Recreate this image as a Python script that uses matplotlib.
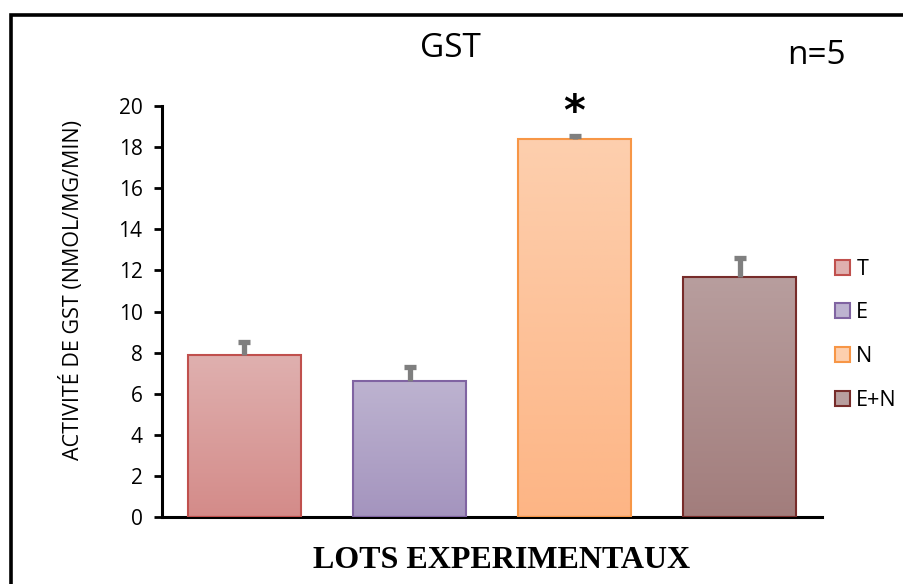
import matplotlib.pyplot as plt
import numpy as np
from matplotlib.colors import LinearSegmentedColormap
from matplotlib.patches import Patch, Rectangle

plt.rcParams['font.family'] = ['Open Sans', 'DejaVu Sans']

groups = ['T', 'E', 'N', 'E+N']
activite = [7.88, 6.6, 18.4, 11.68]
erreur = [0.62, 0.7, 0.12, 0.9]

# couleurs : haut du degrade, bas du degrade, contour
couleurs_haut = ['#dfb0af', '#bdb3d0', '#fdcfae', '#b89e9e']
couleurs_bas = ['#d48b89', '#a494be', '#fdb585', '#a27d7c']
contours = ['#c0504d', '#8064a2', '#f79646', '#772c2a']

fig = plt.figure(figsize=(9.04, 5.84), dpi=100)
ax = fig.add_axes([0.1792, 0.1147, 0.7301, 0.7038])

x = np.arange(len(groups))
largeur = 0.685
bars = ax.bar(x, activite, width=largeur, color='none', edgecolor=contours,
              linewidth=1.5, zorder=3)

# remplissage en degrade vertical
grad = np.linspace(1, 0, 256).reshape(-1, 1)
for b, haut, bas in zip(bars, couleurs_haut, couleurs_bas):
    cmap = LinearSegmentedColormap.from_list('g', [bas, haut])
    x0, y0 = b.get_x(), b.get_y()
    im = ax.imshow(grad, cmap=cmap, aspect='auto', zorder=2,
                   extent=[x0, x0 + b.get_width(), y0, y0 + b.get_height()])
    im.set_clip_path(b)

eb = ax.errorbar(x, activite, yerr=[np.zeros(len(erreur)), erreur], fmt='none',
                 ecolor='#7f7f7f', elinewidth=3.8, capsize=4.5, capthick=3.8,
                 zorder=4)
eb[1][0].set_visible(False)  # pas de trait en bas

ax.text(x[2], 19.65, '*', ha='center', va='center', fontsize=30,
        fontweight='bold', fontfamily='DejaVu Sans')

ax.set_xlim(-0.5, 3.5)
ax.set_ylim(0, 20)
ax.set_yticks(np.arange(0, 21, 2))
ax.set_xticks([])
ax.tick_params(axis='y', labelsize=15, width=2, length=6, direction='out', pad=8)
for s in ['top', 'right']:
    ax.spines[s].set_visible(False)
for s in ['left', 'bottom']:
    ax.spines[s].set_linewidth(2.2)
ax.set_ylabel('ACTIVITÉ DE GST (NMOL/MG/MIN)', fontsize=15.5)
ax.yaxis.set_label_coords(-0.118, 0.552)

fig.text(0.498, 0.917, 'GST', ha='center', va='center', fontsize=24)
fig.text(0.903, 0.905, 'n=5', ha='center', va='center', fontsize=24)
fig.text(0.555, 0.04, 'LOTS EXPERIMENTAUX', ha='center', va='center',
         fontsize=23, fontweight='bold', fontfamily='Liberation Serif')

handles = [Patch(facecolor=h, edgecolor=c, linewidth=1.5)
           for h, c in zip(couleurs_haut, contours)]
fig.legend(handles, groups, loc='upper left', bbox_to_anchor=(0.902, 0.59),
           frameon=False, fontsize=15.5, handlelength=0.7, handleheight=0.7,
           handletextpad=0.3, labelspacing=1.05)

# cadre autour du graphique
fig.patches.append(Rectangle((0.0127, -0.1), 1.2, 1.074, transform=fig.transFigure,
                             fill=False, edgecolor='black', linewidth=2.6))

fig.savefig('out.png', dpi=100)
